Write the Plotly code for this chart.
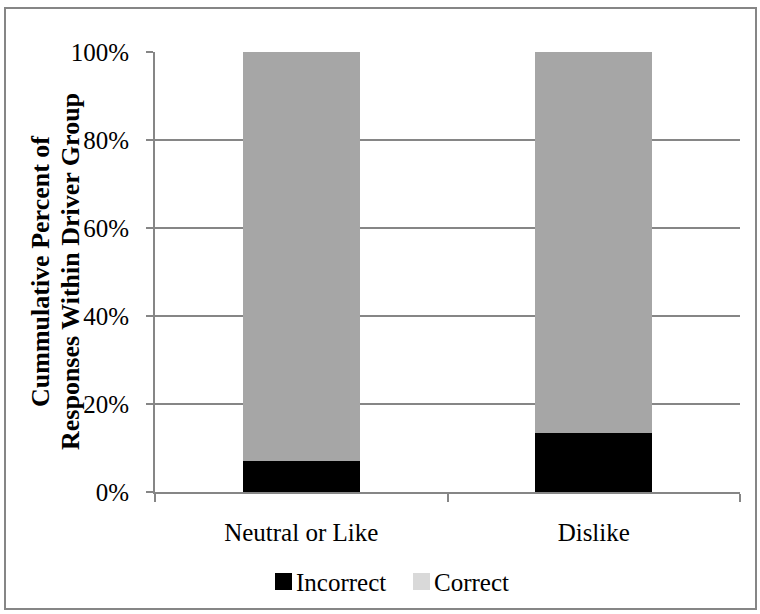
import plotly.graph_objects as go

groups = ["Neutral or Like", "Dislike"]
incorrect = [7.0, 13.3]
correct = [93.0, 86.7]
y_ticks = [0, 20, 40, 60, 80, 100]
y_labels = ["0%", "20%", "40%", "60%", "80%", "100%"]
legend_names = ["Incorrect", "Correct"]
legend_colors = ["#000000", "#d9d9d9"]

font = "Liberation Serif, Times New Roman, serif"
grey = "#868686"
fs = 25

fig = go.Figure()
fig.add_trace(go.Bar(x=groups, y=incorrect, name="Incorrect",
                     marker=dict(color="#000000", line=dict(width=0))))
fig.add_trace(go.Bar(x=groups, y=correct, name="Correct",
                     marker=dict(color="#a6a6a6", line=dict(width=0))))

L, R, T, B = 155, 20, 52, 122
W, H = 760, 614
pw, ph = W - L - R, H - T - B

def px(x):
    return (x - L) / pw

def py(y):
    return (H - B - y) / ph

fig.update_layout(
    width=W, height=H,
    barmode="stack", bargap=0.6,
    margin=dict(l=L, r=R, t=T, b=B),
    paper_bgcolor="white", plot_bgcolor="white",
    font=dict(family=font, size=fs, color="black"),
    showlegend=False,
    xaxis=dict(showline=True, linecolor=grey, linewidth=2,
               ticks="outside", ticklen=8, tickcolor=grey, tickwidth=2,
               tickson="boundaries", ticklabelstandoff=17,
               showgrid=False, fixedrange=True),
    yaxis=dict(range=[0, 100], tickvals=y_ticks, ticktext=y_labels,
               showline=True, linecolor=grey, linewidth=2,
               ticks="outside", ticklen=7, tickcolor=grey, tickwidth=2,
               ticklabelstandoff=12,
               showgrid=True, gridcolor=grey, gridwidth=2,
               zeroline=False, fixedrange=True),
)

# axis title, two lines set a little tighter than plotly's default line height
for xc, line in [(40, "Cummulative Percent of"), (70, "Responses Within Driver Group")]:
    fig.add_annotation(text="<b>" + line + "</b>", xref="paper", yref="paper",
                       x=px(xc), y=0.5, textangle=-90, showarrow=False,
                       font=dict(size=26), xanchor="center", yanchor="middle")

# legend drawn by hand (Excel style: small square right next to the label)
for x0, name, col in zip([275, 413], legend_names, legend_colors):
    fig.add_shape(type="rect", xref="paper", yref="paper",
                  x0=px(x0), x1=px(x0 + 17), y0=py(590), y1=py(573),
                  fillcolor=col, line=dict(width=0))
    fig.add_annotation(text=name, xref="paper", yref="paper",
                       x=px(x0 + 19), y=py(582), showarrow=False,
                       xanchor="left", yanchor="middle", font=dict(size=fs))

fig.add_shape(type="rect", xref="paper", yref="paper",
              x0=px(5), x1=px(756), y0=py(609), y1=py(8),
              line=dict(color=grey, width=2), layer="below")

fig.write_html("out.html", config={"displayModeBar": False},
               post_script="document.body.style.margin='0';")
